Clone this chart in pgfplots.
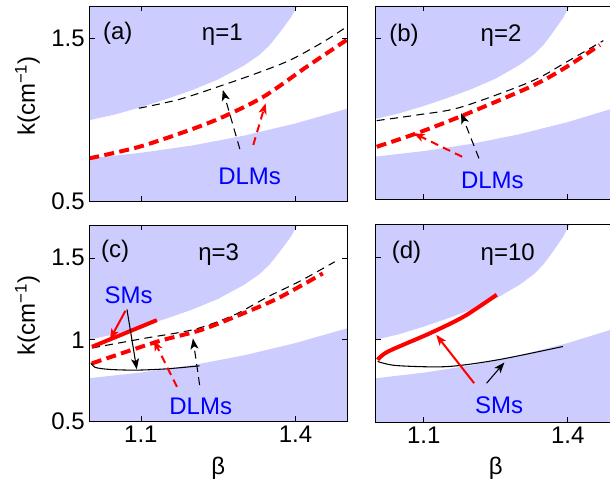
\documentclass[border=0pt]{standalone}
\usepackage{fontspec}
\setmainfont{Liberation Sans}
\usepackage{pgfplots}
\pgfplotsset{compat=1.18}
\usetikzlibrary{arrows.meta}
\definecolor{shade}{RGB}{204,204,255}
\definecolor{lblue}{RGB}{0,0,255}
\definecolor{mred}{RGB}{255,0,0}
\newcommand{\bigf}{\fontsize{18}{21}\selectfont}
\tikzset{
  bdash/.style={black, line width=0.8pt, dash pattern=on 6pt off 4pt},
  rdash/.style={mred, line width=3pt, dash pattern=on 7.5pt off 4pt},
  rsolid/.style={mred, line width=3pt},
  bsolid/.style={black, line width=0.8pt},
  arr/.style={-{Stealth[length=8pt,width=6pt,inset=2pt]}},
}
\pgfplotsset{
  panel/.style={
    scale only axis, anchor=south west,
    xmin=1, xmax=1.5, ymin=0.5, ymax=1.7,
    xtick={1.1,1.4}, ytick={0.5,1,1.5},
    xticklabels={}, yticklabels={},
    tick align=inside, major tick length=4pt,
    axis line style={line width=0.6pt},
    every tick/.style={black, line width=0.5pt},
    axis on top,
    tick label style={font=\bigf},
    label style={font=\bigf},
    every axis y label/.style={at={(axis description cs:-0.24,0.54)}, rotate=90, anchor=center},
    every axis x label/.style={at={(axis description cs:0.5,-0.235)}, anchor=center},
  },
}
% shaded regions (same in every panel)
\newcommand{\shading}{%
  \addplot[fill=shade, draw=none] coordinates {(1.0,1.0) (1.05,1.035) (1.10,1.08) (1.15,1.13) (1.20,1.185) (1.25,1.25) (1.30,1.335) (1.33,1.40) (1.35,1.46) (1.37,1.54) (1.39,1.625) (1.404,1.70) (1.0,1.70)} -- cycle;
  \addplot[fill=shade, draw=none] coordinates {(1.0,0.5) (1.0,0.766) (1.1,0.80) (1.2,0.845) (1.3,0.905) (1.4,0.98) (1.5,1.07) (1.5,0.5)} -- cycle;
}
\begin{document}
\begin{tikzpicture}[font=\bigf]
\path[use as bounding box] (0,0) rectangle (457.5pt,361.5pt);
\clip (0,0) rectangle (457.5pt,361.5pt);
% ---------------- (a)
\begin{axis}[panel, at={(67pt,210.2pt)}, width=193.3pt, height=146.8pt,
  ytick={0.5,1.5}, yticklabels={0.5,1.5}, ylabel={k(cm\textsuperscript{−1})}]
\shading
\addplot[bdash, smooth] coordinates {(1.096,1.073) (1.175,1.128) (1.26,1.216) (1.325,1.288) (1.39,1.369) (1.455,1.482) (1.50,1.574)};
\addplot[rdash, smooth] coordinates {(1.0,0.766) (1.097,0.837) (1.195,0.94) (1.26,1.021) (1.338,1.144) (1.422,1.328) (1.504,1.502)};
\draw[bdash, arr] (axis cs:1.292,0.823) -- (axis cs:1.259,1.185);
\draw[mred, line width=1.5pt, dash pattern=on 6pt off 4pt, arr] (axis cs:1.318,0.848) -- (axis cs:1.342,1.104);
\node[lblue] at (axis cs:1.311,0.653) {DLMs};
\node at (axis cs:1.055,1.533) {(a)};
\node at (axis cs:1.258,1.523) {η=1};
\end{axis}
% ---------------- (b)
\begin{axis}[panel, at={(281.8pt,211.9pt)}, width=180pt, height=145.1pt, ytick={0.5,1.5}]
\shading
\addplot[bdash, smooth] coordinates {(1.002,0.989) (1.086,1.024) (1.177,1.072) (1.323,1.231) (1.393,1.345) (1.474,1.485)};
\addplot[rdash, smooth] coordinates {(1.002,0.827) (1.086,0.911) (1.184,1.024) (1.323,1.20) (1.393,1.314) (1.467,1.458)};
\draw[bdash, arr] (axis cs:1.215,0.755) -- (axis cs:1.178,1.035);
\draw[mred, line width=1.5pt, dash pattern=on 6pt off 4pt, arr] (axis cs:1.180,0.765) -- (axis cs:1.079,0.911);
\node[lblue] at (axis cs:1.243,0.621) {DLMs};
\node at (axis cs:1.059,1.520) {(b)};
\node at (axis cs:1.261,1.514) {η=2};
\end{axis}
% ---------------- (c)
\begin{axis}[panel, at={(67pt,45.2pt)}, width=193.3pt, height=147.5pt,
  yticklabels={0.5,1,1.5}, xticklabels={1.1,1.4},
  ylabel={k(cm\textsuperscript{−1})}, xlabel={β}]
\shading
\addplot[bdash, smooth] coordinates {(1.005,0.95) (1.105,1.008) (1.203,1.063) (1.28,1.15) (1.346,1.262) (1.41,1.36) (1.476,1.476)};
\addplot[rdash, smooth] coordinates {(1.005,0.856) (1.131,0.988) (1.216,1.059) (1.29,1.15) (1.365,1.252) (1.453,1.405)};
\addplot[rsolid] coordinates {(1.005,0.957) (1.131,1.120)};
\addplot[bsolid, smooth] coordinates {(1.003,0.860) (1.011,0.832) (1.040,0.819) (1.092,0.815) (1.151,0.823) (1.214,0.841)};
\draw[mred, line width=1.5pt, arr] (axis cs:1.070,1.177) -- (axis cs:1.040,1.002);
\draw[bsolid, arr] (axis cs:1.073,1.185) -- (axis cs:1.092,0.820);
\draw[mred, line width=1.5pt, dash pattern=on 6pt off 4pt, arr] (axis cs:1.170,0.713) -- (axis cs:1.125,0.998);
\draw[bdash, arr] (axis cs:1.214,0.724) -- (axis cs:1.201,1.008);
\node[lblue] at (axis cs:1.076,1.273) {SMs};
\node[lblue] at (axis cs:1.216,0.591) {DLMs};
\node at (axis cs:1.050,1.543) {(c)};
\node at (axis cs:1.251,1.517) {η=3};
\end{axis}
% ---------------- (d)
\begin{axis}[panel, at={(281.8pt,45pt)}, width=180pt, height=148pt,
  xticklabels={1.1,1.4}, xlabel={β}]
\shading
\addplot[rsolid, smooth] coordinates {(1.004,0.878) (1.026,0.929) (1.114,1.041) (1.184,1.142) (1.252,1.274)};
\addplot[bsolid, smooth] coordinates {(1.004,0.868) (1.044,0.843) (1.149,0.837) (1.254,0.878) (1.390,0.959)};
\draw[mred, line width=1.5pt, arr] (axis cs:1.205,0.736) -- (axis cs:1.126,1.030);
\draw[bsolid, arr] (axis cs:1.231,0.736) -- (axis cs:1.268,0.862);
\node[lblue] at (axis cs:1.257,0.604) {SMs};
\node at (axis cs:1.064,1.529) {(d)};
\node at (axis cs:1.275,1.518) {η=10};
\end{axis}
\end{tikzpicture}
\end{document}
